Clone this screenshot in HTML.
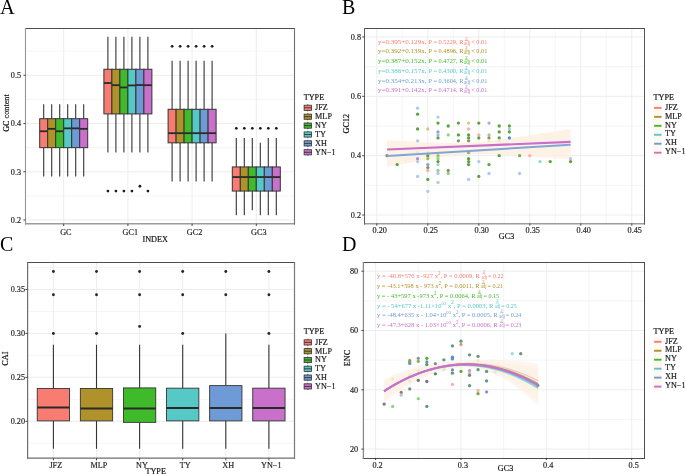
<!DOCTYPE html>
<html><head><meta charset="utf-8"><style>
html,body{margin:0;padding:0;background:#fff;width:685px;height:474px;overflow:hidden}
svg{display:block;font-family:"Liberation Serif",serif;will-change:transform}
text{stroke-width:0.18px}
</style></head><body>
<svg width="685" height="474" viewBox="0 0 685 474">
<rect width="685" height="474" fill="#fff"/>
<text x="0.10" y="13.70" font-size="20.4" text-anchor="start" fill="#000">A</text>
<text x="342.00" y="13.70" font-size="20.0" text-anchor="start" fill="#000">B</text>
<text x="0.00" y="251.00" font-size="20.0" text-anchor="start" fill="#000">C</text>
<text x="342.00" y="250.90" font-size="20.0" text-anchor="start" fill="#000">D</text>
<rect x="25.50" y="28.50" width="269.00" height="195.30" fill="#FFFFFF" stroke="none" stroke-width="0"/>
<line x1="25.50" y1="195.88" x2="294.50" y2="195.88" stroke="#EBEBEB" stroke-width="0.5"/>
<line x1="25.50" y1="147.65" x2="294.50" y2="147.65" stroke="#EBEBEB" stroke-width="0.5"/>
<line x1="25.50" y1="99.41" x2="294.50" y2="99.41" stroke="#EBEBEB" stroke-width="0.5"/>
<line x1="25.50" y1="51.18" x2="294.50" y2="51.18" stroke="#EBEBEB" stroke-width="0.5"/>
<line x1="25.50" y1="219.99" x2="294.50" y2="219.99" stroke="#EBEBEB" stroke-width="0.9"/>
<line x1="25.50" y1="171.76" x2="294.50" y2="171.76" stroke="#EBEBEB" stroke-width="0.9"/>
<line x1="25.50" y1="123.53" x2="294.50" y2="123.53" stroke="#EBEBEB" stroke-width="0.9"/>
<line x1="25.50" y1="75.30" x2="294.50" y2="75.30" stroke="#EBEBEB" stroke-width="0.9"/>
<line x1="63.70" y1="28.50" x2="63.70" y2="223.80" stroke="#EBEBEB" stroke-width="0.9"/>
<line x1="127.90" y1="28.50" x2="127.90" y2="223.80" stroke="#EBEBEB" stroke-width="0.9"/>
<line x1="192.10" y1="28.50" x2="192.10" y2="223.80" stroke="#EBEBEB" stroke-width="0.9"/>
<line x1="256.30" y1="28.50" x2="256.30" y2="223.80" stroke="#EBEBEB" stroke-width="0.9"/>
<line x1="43.70" y1="104.24" x2="43.70" y2="118.71" stroke="#333" stroke-width="1.1"/>
<line x1="43.70" y1="147.65" x2="43.70" y2="176.58" stroke="#333" stroke-width="1.1"/>
<rect x="39.70" y="118.71" width="8.00" height="28.94" fill="#F87C72" stroke="#333" stroke-width="1.0"/>
<line x1="39.70" y1="131.25" x2="47.70" y2="131.25" stroke="#2a2a2a" stroke-width="1.8"/>
<line x1="51.70" y1="104.24" x2="51.70" y2="118.71" stroke="#333" stroke-width="1.1"/>
<line x1="51.70" y1="147.65" x2="51.70" y2="176.58" stroke="#333" stroke-width="1.1"/>
<rect x="47.70" y="118.71" width="8.00" height="28.94" fill="#AF9229" stroke="#333" stroke-width="1.0"/>
<line x1="47.70" y1="128.84" x2="55.70" y2="128.84" stroke="#2a2a2a" stroke-width="1.8"/>
<line x1="59.70" y1="104.24" x2="59.70" y2="118.71" stroke="#333" stroke-width="1.1"/>
<line x1="59.70" y1="147.65" x2="59.70" y2="176.58" stroke="#333" stroke-width="1.1"/>
<rect x="55.70" y="118.71" width="8.00" height="28.94" fill="#3FBA2B" stroke="#333" stroke-width="1.0"/>
<line x1="55.70" y1="131.25" x2="63.70" y2="131.25" stroke="#2a2a2a" stroke-width="1.8"/>
<line x1="67.70" y1="104.24" x2="67.70" y2="118.71" stroke="#333" stroke-width="1.1"/>
<line x1="67.70" y1="147.65" x2="67.70" y2="176.58" stroke="#333" stroke-width="1.1"/>
<rect x="63.70" y="118.71" width="8.00" height="28.94" fill="#56C8C6" stroke="#333" stroke-width="1.0"/>
<line x1="63.70" y1="128.35" x2="71.70" y2="128.35" stroke="#2a2a2a" stroke-width="1.8"/>
<line x1="75.70" y1="104.24" x2="75.70" y2="118.71" stroke="#333" stroke-width="1.1"/>
<line x1="75.70" y1="147.65" x2="75.70" y2="176.58" stroke="#333" stroke-width="1.1"/>
<rect x="71.70" y="118.71" width="8.00" height="28.94" fill="#6E9BD5" stroke="#333" stroke-width="1.0"/>
<line x1="71.70" y1="128.35" x2="79.70" y2="128.35" stroke="#2a2a2a" stroke-width="1.8"/>
<line x1="83.70" y1="104.24" x2="83.70" y2="118.71" stroke="#333" stroke-width="1.1"/>
<line x1="83.70" y1="147.65" x2="83.70" y2="176.58" stroke="#333" stroke-width="1.1"/>
<rect x="79.70" y="118.71" width="8.00" height="28.94" fill="#C970CB" stroke="#333" stroke-width="1.0"/>
<line x1="79.70" y1="128.84" x2="87.70" y2="128.84" stroke="#2a2a2a" stroke-width="1.8"/>
<line x1="107.90" y1="36.72" x2="107.90" y2="69.27" stroke="#333" stroke-width="1.1"/>
<line x1="107.90" y1="113.88" x2="107.90" y2="152.47" stroke="#333" stroke-width="1.1"/>
<rect x="103.90" y="69.27" width="8.00" height="44.61" fill="#F87C72" stroke="#333" stroke-width="1.0"/>
<line x1="103.90" y1="83.02" x2="111.90" y2="83.02" stroke="#2a2a2a" stroke-width="1.8"/>
<circle cx="107.90" cy="191.05" r="1.4" fill="#1e1e1e"/>
<line x1="115.90" y1="36.72" x2="115.90" y2="69.27" stroke="#333" stroke-width="1.1"/>
<line x1="115.90" y1="113.88" x2="115.90" y2="152.47" stroke="#333" stroke-width="1.1"/>
<rect x="111.90" y="69.27" width="8.00" height="44.61" fill="#AF9229" stroke="#333" stroke-width="1.0"/>
<line x1="111.90" y1="85.19" x2="119.90" y2="85.19" stroke="#2a2a2a" stroke-width="1.8"/>
<circle cx="115.90" cy="191.05" r="1.4" fill="#1e1e1e"/>
<line x1="123.90" y1="36.72" x2="123.90" y2="69.27" stroke="#333" stroke-width="1.1"/>
<line x1="123.90" y1="113.88" x2="123.90" y2="152.47" stroke="#333" stroke-width="1.1"/>
<rect x="119.90" y="69.27" width="8.00" height="44.61" fill="#3FBA2B" stroke="#333" stroke-width="1.0"/>
<line x1="119.90" y1="87.45" x2="127.90" y2="87.45" stroke="#2a2a2a" stroke-width="1.8"/>
<circle cx="123.90" cy="191.05" r="1.4" fill="#1e1e1e"/>
<line x1="131.90" y1="36.72" x2="131.90" y2="69.27" stroke="#333" stroke-width="1.1"/>
<line x1="131.90" y1="113.88" x2="131.90" y2="152.47" stroke="#333" stroke-width="1.1"/>
<rect x="127.90" y="69.27" width="8.00" height="44.61" fill="#56C8C6" stroke="#333" stroke-width="1.0"/>
<line x1="127.90" y1="85.43" x2="135.90" y2="85.43" stroke="#2a2a2a" stroke-width="1.8"/>
<circle cx="131.90" cy="191.05" r="1.4" fill="#1e1e1e"/>
<line x1="139.90" y1="36.72" x2="139.90" y2="69.27" stroke="#333" stroke-width="1.1"/>
<line x1="139.90" y1="113.88" x2="139.90" y2="152.47" stroke="#333" stroke-width="1.1"/>
<rect x="135.90" y="69.27" width="8.00" height="44.61" fill="#6E9BD5" stroke="#333" stroke-width="1.0"/>
<line x1="135.90" y1="85.04" x2="143.90" y2="85.04" stroke="#2a2a2a" stroke-width="1.8"/>
<circle cx="139.90" cy="186.23" r="1.4" fill="#1e1e1e"/>
<line x1="147.90" y1="36.72" x2="147.90" y2="69.27" stroke="#333" stroke-width="1.1"/>
<line x1="147.90" y1="113.88" x2="147.90" y2="152.47" stroke="#333" stroke-width="1.1"/>
<rect x="143.90" y="69.27" width="8.00" height="44.61" fill="#C970CB" stroke="#333" stroke-width="1.0"/>
<line x1="143.90" y1="85.19" x2="151.90" y2="85.19" stroke="#2a2a2a" stroke-width="1.8"/>
<circle cx="147.90" cy="191.05" r="1.4" fill="#1e1e1e"/>
<line x1="172.10" y1="60.83" x2="172.10" y2="109.30" stroke="#333" stroke-width="1.1"/>
<line x1="172.10" y1="142.82" x2="172.10" y2="181.41" stroke="#333" stroke-width="1.1"/>
<rect x="168.10" y="109.30" width="8.00" height="33.52" fill="#F87C72" stroke="#333" stroke-width="1.0"/>
<line x1="168.10" y1="133.18" x2="176.10" y2="133.18" stroke="#2a2a2a" stroke-width="1.8"/>
<circle cx="172.10" cy="46.36" r="1.4" fill="#1e1e1e"/>
<line x1="180.10" y1="60.83" x2="180.10" y2="109.30" stroke="#333" stroke-width="1.1"/>
<line x1="180.10" y1="142.82" x2="180.10" y2="181.41" stroke="#333" stroke-width="1.1"/>
<rect x="176.10" y="109.30" width="8.00" height="33.52" fill="#AF9229" stroke="#333" stroke-width="1.0"/>
<line x1="176.10" y1="133.18" x2="184.10" y2="133.18" stroke="#2a2a2a" stroke-width="1.8"/>
<circle cx="180.10" cy="46.36" r="1.4" fill="#1e1e1e"/>
<line x1="188.10" y1="60.83" x2="188.10" y2="109.30" stroke="#333" stroke-width="1.1"/>
<line x1="188.10" y1="142.82" x2="188.10" y2="181.41" stroke="#333" stroke-width="1.1"/>
<rect x="184.10" y="109.30" width="8.00" height="33.52" fill="#3FBA2B" stroke="#333" stroke-width="1.0"/>
<line x1="184.10" y1="133.18" x2="192.10" y2="133.18" stroke="#2a2a2a" stroke-width="1.8"/>
<circle cx="188.10" cy="46.36" r="1.4" fill="#1e1e1e"/>
<line x1="196.10" y1="60.83" x2="196.10" y2="109.30" stroke="#333" stroke-width="1.1"/>
<line x1="196.10" y1="142.82" x2="196.10" y2="181.41" stroke="#333" stroke-width="1.1"/>
<rect x="192.10" y="109.30" width="8.00" height="33.52" fill="#56C8C6" stroke="#333" stroke-width="1.0"/>
<line x1="192.10" y1="133.18" x2="200.10" y2="133.18" stroke="#2a2a2a" stroke-width="1.8"/>
<circle cx="196.10" cy="46.36" r="1.4" fill="#1e1e1e"/>
<line x1="204.10" y1="60.83" x2="204.10" y2="109.30" stroke="#333" stroke-width="1.1"/>
<line x1="204.10" y1="142.82" x2="204.10" y2="181.41" stroke="#333" stroke-width="1.1"/>
<rect x="200.10" y="109.30" width="8.00" height="33.52" fill="#6E9BD5" stroke="#333" stroke-width="1.0"/>
<line x1="200.10" y1="133.18" x2="208.10" y2="133.18" stroke="#2a2a2a" stroke-width="1.8"/>
<circle cx="204.10" cy="46.36" r="1.4" fill="#1e1e1e"/>
<line x1="212.10" y1="60.83" x2="212.10" y2="109.30" stroke="#333" stroke-width="1.1"/>
<line x1="212.10" y1="142.82" x2="212.10" y2="181.41" stroke="#333" stroke-width="1.1"/>
<rect x="208.10" y="109.30" width="8.00" height="33.52" fill="#C970CB" stroke="#333" stroke-width="1.0"/>
<line x1="208.10" y1="133.18" x2="216.10" y2="133.18" stroke="#2a2a2a" stroke-width="1.8"/>
<circle cx="212.10" cy="46.36" r="1.4" fill="#1e1e1e"/>
<line x1="236.30" y1="138.00" x2="236.30" y2="166.94" stroke="#333" stroke-width="1.1"/>
<line x1="236.30" y1="191.05" x2="236.30" y2="215.17" stroke="#333" stroke-width="1.1"/>
<rect x="232.30" y="166.94" width="8.00" height="24.11" fill="#F87C72" stroke="#333" stroke-width="1.0"/>
<line x1="232.30" y1="177.07" x2="240.30" y2="177.07" stroke="#2a2a2a" stroke-width="1.8"/>
<circle cx="236.30" cy="128.35" r="1.4" fill="#1e1e1e"/>
<line x1="244.30" y1="138.00" x2="244.30" y2="166.94" stroke="#333" stroke-width="1.1"/>
<line x1="244.30" y1="191.05" x2="244.30" y2="215.17" stroke="#333" stroke-width="1.1"/>
<rect x="240.30" y="166.94" width="8.00" height="24.11" fill="#AF9229" stroke="#333" stroke-width="1.0"/>
<line x1="240.30" y1="177.07" x2="248.30" y2="177.07" stroke="#2a2a2a" stroke-width="1.8"/>
<circle cx="244.30" cy="128.35" r="1.4" fill="#1e1e1e"/>
<line x1="252.30" y1="138.00" x2="252.30" y2="166.94" stroke="#333" stroke-width="1.1"/>
<line x1="252.30" y1="191.05" x2="252.30" y2="210.34" stroke="#333" stroke-width="1.1"/>
<rect x="248.30" y="166.94" width="8.00" height="24.11" fill="#3FBA2B" stroke="#333" stroke-width="1.0"/>
<line x1="248.30" y1="177.07" x2="256.30" y2="177.07" stroke="#2a2a2a" stroke-width="1.8"/>
<circle cx="252.30" cy="128.35" r="1.4" fill="#1e1e1e"/>
<line x1="260.30" y1="142.82" x2="260.30" y2="166.94" stroke="#333" stroke-width="1.1"/>
<line x1="260.30" y1="191.05" x2="260.30" y2="215.17" stroke="#333" stroke-width="1.1"/>
<rect x="256.30" y="166.94" width="8.00" height="24.11" fill="#56C8C6" stroke="#333" stroke-width="1.0"/>
<line x1="256.30" y1="177.07" x2="264.30" y2="177.07" stroke="#2a2a2a" stroke-width="1.8"/>
<circle cx="260.30" cy="128.35" r="1.4" fill="#1e1e1e"/>
<line x1="268.30" y1="138.00" x2="268.30" y2="166.94" stroke="#333" stroke-width="1.1"/>
<line x1="268.30" y1="191.05" x2="268.30" y2="215.17" stroke="#333" stroke-width="1.1"/>
<rect x="264.30" y="166.94" width="8.00" height="24.11" fill="#6E9BD5" stroke="#333" stroke-width="1.0"/>
<line x1="264.30" y1="177.07" x2="272.30" y2="177.07" stroke="#2a2a2a" stroke-width="1.8"/>
<circle cx="268.30" cy="128.35" r="1.4" fill="#1e1e1e"/>
<line x1="276.30" y1="138.00" x2="276.30" y2="166.94" stroke="#333" stroke-width="1.1"/>
<line x1="276.30" y1="191.05" x2="276.30" y2="215.17" stroke="#333" stroke-width="1.1"/>
<rect x="272.30" y="166.94" width="8.00" height="24.11" fill="#C970CB" stroke="#333" stroke-width="1.0"/>
<line x1="272.30" y1="177.07" x2="280.30" y2="177.07" stroke="#2a2a2a" stroke-width="1.8"/>
<circle cx="276.30" cy="128.35" r="1.4" fill="#1e1e1e"/>
<line x1="24.95" y1="28.50" x2="295.05" y2="28.50" stroke="#4d4d4d" stroke-width="1.0"/>
<line x1="24.95" y1="223.80" x2="295.05" y2="223.80" stroke="#9c9c9c" stroke-width="1.5"/>
<line x1="25.50" y1="28.00" x2="25.50" y2="224.55" stroke="#949494" stroke-width="1.1"/>
<line x1="294.50" y1="28.00" x2="294.50" y2="224.55" stroke="#6e6e6e" stroke-width="1.1"/>
<text x="21.10" y="222.76" font-size="8.2" text-anchor="end" fill="#262626" stroke="#262626">0.2</text>
<line x1="23.40" y1="219.99" x2="25.50" y2="219.99" stroke="#333" stroke-width="0.9"/>
<text x="21.10" y="174.53" font-size="8.2" text-anchor="end" fill="#262626" stroke="#262626">0.3</text>
<line x1="23.40" y1="171.76" x2="25.50" y2="171.76" stroke="#333" stroke-width="0.9"/>
<text x="21.10" y="126.30" font-size="8.2" text-anchor="end" fill="#262626" stroke="#262626">0.4</text>
<line x1="23.40" y1="123.53" x2="25.50" y2="123.53" stroke="#333" stroke-width="0.9"/>
<text x="21.10" y="78.07" font-size="8.2" text-anchor="end" fill="#262626" stroke="#262626">0.5</text>
<line x1="23.40" y1="75.30" x2="25.50" y2="75.30" stroke="#333" stroke-width="0.9"/>
<line x1="63.70" y1="223.80" x2="63.70" y2="226.00" stroke="#333" stroke-width="0.9"/>
<text x="65.90" y="235.10" font-size="8.2" text-anchor="middle" fill="#262626" stroke="#262626">GC</text>
<line x1="127.90" y1="223.80" x2="127.90" y2="226.00" stroke="#333" stroke-width="0.9"/>
<text x="130.30" y="235.10" font-size="8.2" text-anchor="middle" fill="#262626" stroke="#262626">GC1</text>
<line x1="192.10" y1="223.80" x2="192.10" y2="226.00" stroke="#333" stroke-width="0.9"/>
<text x="194.60" y="235.10" font-size="8.2" text-anchor="middle" fill="#262626" stroke="#262626">GC2</text>
<line x1="256.30" y1="223.80" x2="256.30" y2="226.00" stroke="#333" stroke-width="0.9"/>
<text x="258.80" y="235.10" font-size="8.2" text-anchor="middle" fill="#262626" stroke="#262626">GC3</text>
<text x="155.20" y="241.50" font-size="8.2" text-anchor="middle" fill="#111" stroke="#111">INDEX</text>
<text transform="translate(9.0,113.1) rotate(-90)" font-size="8.2" text-anchor="middle" fill="#111" stroke="#111">GC content</text>
<text x="303.70" y="100.10" font-size="8.2" text-anchor="start" fill="#111" stroke="#111">TYPE</text>
<line x1="307.80" y1="104.20" x2="307.80" y2="111.40" stroke="#333" stroke-width="0.8"/>
<rect x="304.10" y="105.20" width="7.40" height="5.20" fill="#F87C72" stroke="#333" stroke-width="0.8"/>
<line x1="304.10" y1="107.80" x2="311.50" y2="107.80" stroke="#333" stroke-width="0.9"/>
<text x="315.10" y="110.20" font-size="8.2" text-anchor="start" fill="#1a1a1a" stroke="#1a1a1a">JFZ</text>
<line x1="307.80" y1="113.10" x2="307.80" y2="120.30" stroke="#333" stroke-width="0.8"/>
<rect x="304.10" y="114.10" width="7.40" height="5.20" fill="#AF9229" stroke="#333" stroke-width="0.8"/>
<line x1="304.10" y1="116.70" x2="311.50" y2="116.70" stroke="#333" stroke-width="0.9"/>
<text x="315.10" y="119.10" font-size="8.2" text-anchor="start" fill="#1a1a1a" stroke="#1a1a1a">MLP</text>
<line x1="307.80" y1="122.00" x2="307.80" y2="129.20" stroke="#333" stroke-width="0.8"/>
<rect x="304.10" y="123.00" width="7.40" height="5.20" fill="#3FBA2B" stroke="#333" stroke-width="0.8"/>
<line x1="304.10" y1="125.60" x2="311.50" y2="125.60" stroke="#333" stroke-width="0.9"/>
<text x="315.10" y="128.00" font-size="8.2" text-anchor="start" fill="#1a1a1a" stroke="#1a1a1a">NY</text>
<line x1="307.80" y1="130.90" x2="307.80" y2="138.10" stroke="#333" stroke-width="0.8"/>
<rect x="304.10" y="131.90" width="7.40" height="5.20" fill="#56C8C6" stroke="#333" stroke-width="0.8"/>
<line x1="304.10" y1="134.50" x2="311.50" y2="134.50" stroke="#333" stroke-width="0.9"/>
<text x="315.10" y="136.90" font-size="8.2" text-anchor="start" fill="#1a1a1a" stroke="#1a1a1a">TY</text>
<line x1="307.80" y1="139.80" x2="307.80" y2="147.00" stroke="#333" stroke-width="0.8"/>
<rect x="304.10" y="140.80" width="7.40" height="5.20" fill="#6E9BD5" stroke="#333" stroke-width="0.8"/>
<line x1="304.10" y1="143.40" x2="311.50" y2="143.40" stroke="#333" stroke-width="0.9"/>
<text x="315.10" y="145.80" font-size="8.2" text-anchor="start" fill="#1a1a1a" stroke="#1a1a1a">XH</text>
<line x1="307.80" y1="148.70" x2="307.80" y2="155.90" stroke="#333" stroke-width="0.8"/>
<rect x="304.10" y="149.70" width="7.40" height="5.20" fill="#C970CB" stroke="#333" stroke-width="0.8"/>
<line x1="304.10" y1="152.30" x2="311.50" y2="152.30" stroke="#333" stroke-width="0.9"/>
<text x="315.10" y="154.70" font-size="8.2" text-anchor="start" fill="#1a1a1a" stroke="#1a1a1a">YN−1</text>
<rect x="364.30" y="28.10" width="280.10" height="195.40" fill="#FFFFFF" stroke="none" stroke-width="0"/>
<line x1="364.30" y1="185.35" x2="644.40" y2="185.35" stroke="#EBEBEB" stroke-width="0.5"/>
<line x1="364.30" y1="126.01" x2="644.40" y2="126.01" stroke="#EBEBEB" stroke-width="0.5"/>
<line x1="364.30" y1="66.67" x2="644.40" y2="66.67" stroke="#EBEBEB" stroke-width="0.5"/>
<line x1="402.30" y1="28.10" x2="402.30" y2="223.50" stroke="#EBEBEB" stroke-width="0.5"/>
<line x1="453.30" y1="28.10" x2="453.30" y2="223.50" stroke="#EBEBEB" stroke-width="0.5"/>
<line x1="504.30" y1="28.10" x2="504.30" y2="223.50" stroke="#EBEBEB" stroke-width="0.5"/>
<line x1="555.30" y1="28.10" x2="555.30" y2="223.50" stroke="#EBEBEB" stroke-width="0.5"/>
<line x1="606.30" y1="28.10" x2="606.30" y2="223.50" stroke="#EBEBEB" stroke-width="0.5"/>
<line x1="364.30" y1="215.02" x2="644.40" y2="215.02" stroke="#EBEBEB" stroke-width="0.9"/>
<line x1="364.30" y1="155.68" x2="644.40" y2="155.68" stroke="#EBEBEB" stroke-width="0.9"/>
<line x1="364.30" y1="96.34" x2="644.40" y2="96.34" stroke="#EBEBEB" stroke-width="0.9"/>
<line x1="364.30" y1="37.00" x2="644.40" y2="37.00" stroke="#EBEBEB" stroke-width="0.9"/>
<line x1="376.80" y1="28.10" x2="376.80" y2="223.50" stroke="#EBEBEB" stroke-width="0.9"/>
<line x1="427.80" y1="28.10" x2="427.80" y2="223.50" stroke="#EBEBEB" stroke-width="0.9"/>
<line x1="478.80" y1="28.10" x2="478.80" y2="223.50" stroke="#EBEBEB" stroke-width="0.9"/>
<line x1="529.80" y1="28.10" x2="529.80" y2="223.50" stroke="#EBEBEB" stroke-width="0.9"/>
<line x1="580.80" y1="28.10" x2="580.80" y2="223.50" stroke="#EBEBEB" stroke-width="0.9"/>
<line x1="631.80" y1="28.10" x2="631.80" y2="223.50" stroke="#EBEBEB" stroke-width="0.9"/>
<path d="M387.00,140.14 L393.12,140.51 L399.24,140.87 L405.36,141.22 L411.48,141.56 L417.60,141.89 L423.72,142.19 L429.84,142.46 L435.96,142.70 L442.08,142.90 L448.20,143.02 L454.32,143.07 L460.44,143.00 L466.56,142.82 L472.68,142.48 L478.80,142.00 L484.92,141.39 L491.04,140.68 L497.16,139.90 L503.28,139.07 L509.40,138.21 L515.52,137.32 L521.64,136.41 L527.76,135.48 L533.88,134.54 L540.00,133.60 L546.12,132.64 L552.24,131.68 L558.36,130.72 L564.48,129.75 L570.60,128.77 L570.60,160.01 L564.48,159.55 L558.36,159.08 L552.24,158.62 L546.12,158.17 L540.00,157.72 L533.88,157.28 L527.76,156.84 L521.64,156.42 L515.52,156.01 L509.40,155.62 L503.28,155.26 L497.16,154.93 L491.04,154.65 L484.92,154.44 L478.80,154.34 L472.68,154.39 L466.56,154.63 L460.44,155.07 L454.32,155.68 L448.20,156.43 L442.08,157.28 L435.96,158.22 L429.84,159.21 L423.72,160.24 L417.60,161.30 L411.48,162.38 L405.36,163.47 L399.24,164.58 L393.12,165.70 L387.00,166.83Z" fill="#FDEEDD" fill-opacity="0.45"/>
<path d="M387.00,140.14 L393.12,140.51 L399.24,140.87 L405.36,141.22 L411.48,141.56 L417.60,141.89 L423.72,142.19 L429.84,142.46 L435.96,142.70 L442.08,142.90 L448.20,143.02 L454.32,143.07 L460.44,143.00 L466.56,142.82 L472.68,142.49 L478.80,142.02 L484.92,141.43 L491.04,140.74 L497.16,139.99 L503.28,139.19 L509.40,138.35 L515.52,137.49 L521.64,136.60 L527.76,135.70 L533.88,134.79 L540.00,133.87 L546.12,132.94 L552.24,132.01 L558.36,131.07 L564.48,130.12 L570.60,129.17 L570.60,157.77 L564.48,157.45 L558.36,157.12 L552.24,156.80 L546.12,156.49 L540.00,156.18 L533.88,155.88 L527.76,155.59 L521.64,155.31 L515.52,155.04 L509.40,154.80 L503.28,154.58 L497.16,154.40 L491.04,154.26 L484.92,154.19 L478.80,154.21 L472.68,154.35 L466.56,154.63 L460.44,155.07 L454.32,155.68 L448.20,156.43 L442.08,157.28 L435.96,158.22 L429.84,159.21 L423.72,160.24 L417.60,161.30 L411.48,162.38 L405.36,163.47 L399.24,164.58 L393.12,165.70 L387.00,166.83Z" fill="#FDEEDD" fill-opacity="0.55"/>
<circle cx="387.00" cy="155.68" r="1.65" fill="#9A8A62"/>
<circle cx="397.20" cy="164.58" r="1.65" fill="#5EA23E"/>
<circle cx="417.60" cy="108.21" r="1.65" fill="#AFC8EE"/>
<circle cx="417.60" cy="114.14" r="1.65" fill="#5EA23E"/>
<circle cx="417.60" cy="128.98" r="1.65" fill="#5EA23E"/>
<circle cx="417.60" cy="140.84" r="1.65" fill="#AFC8EE"/>
<circle cx="417.60" cy="152.71" r="1.65" fill="#EFE6CF"/>
<circle cx="417.60" cy="158.65" r="1.65" fill="#A993D6"/>
<circle cx="417.60" cy="161.61" r="1.65" fill="#AFC8EE"/>
<circle cx="417.60" cy="176.45" r="1.65" fill="#AFC8EE"/>
<circle cx="427.80" cy="128.98" r="1.65" fill="#D6C68A"/>
<circle cx="427.80" cy="152.71" r="1.65" fill="#EFE6CF"/>
<circle cx="427.80" cy="155.68" r="1.65" fill="#5EA23E"/>
<circle cx="427.80" cy="158.65" r="1.65" fill="#9EBE55"/>
<circle cx="427.80" cy="164.58" r="1.65" fill="#7EA3E0"/>
<circle cx="427.80" cy="167.55" r="1.65" fill="#9A8A62"/>
<circle cx="427.80" cy="170.52" r="1.65" fill="#F7B0AA"/>
<circle cx="427.80" cy="179.42" r="1.65" fill="#5EA23E"/>
<circle cx="427.80" cy="191.28" r="1.65" fill="#AFC8EE"/>
<circle cx="438.00" cy="117.11" r="1.65" fill="#AFC8EE"/>
<circle cx="438.00" cy="123.04" r="1.65" fill="#5EA23E"/>
<circle cx="438.00" cy="131.94" r="1.65" fill="#A993D6"/>
<circle cx="438.00" cy="134.91" r="1.65" fill="#8CC4E8"/>
<circle cx="438.00" cy="137.88" r="1.65" fill="#5EA23E"/>
<circle cx="438.00" cy="155.68" r="1.65" fill="#9EBE55"/>
<circle cx="438.00" cy="158.65" r="1.65" fill="#8ED67E"/>
<circle cx="438.00" cy="161.61" r="1.65" fill="#5EA23E"/>
<circle cx="438.00" cy="164.58" r="1.65" fill="#AFC8EE"/>
<circle cx="438.00" cy="170.52" r="1.65" fill="#8ED67E"/>
<circle cx="438.00" cy="173.48" r="1.65" fill="#AFC8EE"/>
<circle cx="438.00" cy="182.38" r="1.65" fill="#AFC8EE"/>
<circle cx="448.20" cy="126.01" r="1.65" fill="#5EA23E"/>
<circle cx="448.20" cy="134.91" r="1.65" fill="#8ED67E"/>
<circle cx="448.20" cy="170.52" r="1.65" fill="#9A8A62"/>
<circle cx="448.20" cy="173.48" r="1.65" fill="#8ED67E"/>
<circle cx="458.40" cy="123.04" r="1.65" fill="#5EA23E"/>
<circle cx="458.40" cy="134.91" r="1.65" fill="#5EA23E"/>
<circle cx="458.40" cy="140.84" r="1.65" fill="#6E9E5E"/>
<circle cx="468.60" cy="123.04" r="1.65" fill="#D6C68A"/>
<circle cx="468.60" cy="128.98" r="1.65" fill="#F7B0AA"/>
<circle cx="468.60" cy="134.91" r="1.65" fill="#5EA23E"/>
<circle cx="468.60" cy="137.88" r="1.65" fill="#5EA23E"/>
<circle cx="468.60" cy="140.84" r="1.65" fill="#9A8A62"/>
<circle cx="468.60" cy="152.71" r="1.65" fill="#8DBB6A"/>
<circle cx="468.60" cy="158.65" r="1.65" fill="#5EA23E"/>
<circle cx="468.60" cy="161.61" r="1.65" fill="#5EA23E"/>
<circle cx="468.60" cy="164.58" r="1.65" fill="#5EA23E"/>
<circle cx="468.60" cy="179.42" r="1.65" fill="#AFC8EE"/>
<circle cx="478.80" cy="123.04" r="1.65" fill="#5EA23E"/>
<circle cx="478.80" cy="134.91" r="1.65" fill="#F7B0AA"/>
<circle cx="478.80" cy="137.88" r="1.65" fill="#5EA23E"/>
<circle cx="478.80" cy="161.61" r="1.65" fill="#AFC8EE"/>
<circle cx="478.80" cy="176.45" r="1.65" fill="#5EA23E"/>
<circle cx="489.00" cy="123.04" r="1.65" fill="#B5A6DA"/>
<circle cx="489.00" cy="134.91" r="1.65" fill="#8ED67E"/>
<circle cx="489.00" cy="137.88" r="1.65" fill="#9A8A62"/>
<circle cx="489.00" cy="140.84" r="1.65" fill="#EFE6CF"/>
<circle cx="489.00" cy="164.58" r="1.65" fill="#5EA23E"/>
<circle cx="489.00" cy="173.48" r="1.65" fill="#AFC8EE"/>
<circle cx="499.20" cy="126.01" r="1.65" fill="#5EA23E"/>
<circle cx="499.20" cy="131.94" r="1.65" fill="#5EA23E"/>
<circle cx="499.20" cy="137.88" r="1.65" fill="#5EA23E"/>
<circle cx="499.20" cy="140.84" r="1.65" fill="#EFE6CF"/>
<circle cx="499.20" cy="155.68" r="1.65" fill="#5EA23E"/>
<circle cx="509.40" cy="126.01" r="1.65" fill="#5EA23E"/>
<circle cx="509.40" cy="128.98" r="1.65" fill="#AFC8EE"/>
<circle cx="509.40" cy="131.94" r="1.65" fill="#4DB034"/>
<circle cx="509.40" cy="137.88" r="1.65" fill="#6080D0"/>
<circle cx="519.60" cy="155.68" r="1.65" fill="#7AAE5A"/>
<circle cx="519.60" cy="173.48" r="1.65" fill="#AFC8EE"/>
<circle cx="529.80" cy="155.68" r="1.65" fill="#F7B0AA"/>
<circle cx="540.00" cy="161.61" r="1.65" fill="#8FD8DA"/>
<circle cx="550.20" cy="161.61" r="1.65" fill="#5EA23E"/>
<circle cx="570.60" cy="158.65" r="1.65" fill="#AFC8EE"/>
<circle cx="570.60" cy="161.61" r="1.65" fill="#5EA23E"/>
<line x1="387.00" y1="156.06" x2="570.60" y2="144.68" stroke="#7FA5DC" stroke-width="2.1"/>
<line x1="387.00" y1="149.50" x2="570.60" y2="141.92" stroke="#CB6DCA" stroke-width="2.1"/>
<line x1="364.00" y1="28.50" x2="645.00" y2="28.50" stroke="#4d4d4d" stroke-width="1.0"/>
<line x1="364.00" y1="223.80" x2="645.00" y2="223.80" stroke="#9c9c9c" stroke-width="1.5"/>
<line x1="364.50" y1="28.00" x2="364.50" y2="224.55" stroke="#5e5e5e" stroke-width="1.0"/>
<line x1="644.50" y1="28.00" x2="644.50" y2="224.55" stroke="#555555" stroke-width="1.0"/>
<text x="377.9" y="43.80" font-size="7.1" fill="#F87C72" textLength="48.6" lengthAdjust="spacingAndGlyphs">y=0.395+0.129x,</text>
<text x="428.6" y="43.80" font-size="7.1" fill="#F87C72" textLength="34.8" lengthAdjust="spacingAndGlyphs">P = 0.5229, R</text>
<text x="466.4" y="39.80" font-size="4.8" text-anchor="middle" fill="#F87C72">2</text>
<line x1="464.80" y1="40.50" x2="468.20" y2="40.50" stroke="#F87C72" stroke-width="0.7"/>
<text x="467.0" y="44.80" font-size="5.4" text-anchor="middle" fill="#F87C72" textLength="6.2" lengthAdjust="spacingAndGlyphs">adj</text>
<text x="471.2" y="43.80" font-size="7.1" fill="#F87C72" textLength="16.1" lengthAdjust="spacingAndGlyphs">&lt; 0.01</text>
<text x="377.9" y="53.48" font-size="7.1" fill="#AF9229" textLength="48.6" lengthAdjust="spacingAndGlyphs">y=0.392+0.139x,</text>
<text x="428.6" y="53.48" font-size="7.1" fill="#AF9229" textLength="34.8" lengthAdjust="spacingAndGlyphs">P = 0.4896, R</text>
<text x="466.4" y="49.48" font-size="4.8" text-anchor="middle" fill="#AF9229">2</text>
<line x1="464.80" y1="50.18" x2="468.20" y2="50.18" stroke="#AF9229" stroke-width="0.7"/>
<text x="467.0" y="54.48" font-size="5.4" text-anchor="middle" fill="#AF9229" textLength="6.2" lengthAdjust="spacingAndGlyphs">adj</text>
<text x="471.2" y="53.48" font-size="7.1" fill="#AF9229" textLength="16.1" lengthAdjust="spacingAndGlyphs">&lt; 0.01</text>
<text x="377.9" y="63.16" font-size="7.1" fill="#3FBA2B" textLength="48.6" lengthAdjust="spacingAndGlyphs">y=0.387+0.152x,</text>
<text x="428.6" y="63.16" font-size="7.1" fill="#3FBA2B" textLength="34.8" lengthAdjust="spacingAndGlyphs">P = 0.4727, R</text>
<text x="466.4" y="59.16" font-size="4.8" text-anchor="middle" fill="#3FBA2B">2</text>
<line x1="464.80" y1="59.86" x2="468.20" y2="59.86" stroke="#3FBA2B" stroke-width="0.7"/>
<text x="467.0" y="64.16" font-size="5.4" text-anchor="middle" fill="#3FBA2B" textLength="6.2" lengthAdjust="spacingAndGlyphs">adj</text>
<text x="471.2" y="63.16" font-size="7.1" fill="#3FBA2B" textLength="16.1" lengthAdjust="spacingAndGlyphs">&lt; 0.01</text>
<text x="377.9" y="72.84" font-size="7.1" fill="#56C8C6" textLength="48.6" lengthAdjust="spacingAndGlyphs">y=0.386+0.157x,</text>
<text x="428.6" y="72.84" font-size="7.1" fill="#56C8C6" textLength="34.8" lengthAdjust="spacingAndGlyphs">P = 0.4300, R</text>
<text x="466.4" y="68.84" font-size="4.8" text-anchor="middle" fill="#56C8C6">2</text>
<line x1="464.80" y1="69.54" x2="468.20" y2="69.54" stroke="#56C8C6" stroke-width="0.7"/>
<text x="467.0" y="73.84" font-size="5.4" text-anchor="middle" fill="#56C8C6" textLength="6.2" lengthAdjust="spacingAndGlyphs">adj</text>
<text x="471.2" y="72.84" font-size="7.1" fill="#56C8C6" textLength="16.1" lengthAdjust="spacingAndGlyphs">&lt; 0.01</text>
<text x="377.9" y="82.52" font-size="7.1" fill="#6E9BD5" textLength="48.6" lengthAdjust="spacingAndGlyphs">y=0.354+0.213x,</text>
<text x="428.6" y="82.52" font-size="7.1" fill="#6E9BD5" textLength="34.8" lengthAdjust="spacingAndGlyphs">P = 0.3604, R</text>
<text x="466.4" y="78.52" font-size="4.8" text-anchor="middle" fill="#6E9BD5">2</text>
<line x1="464.80" y1="79.22" x2="468.20" y2="79.22" stroke="#6E9BD5" stroke-width="0.7"/>
<text x="467.0" y="83.52" font-size="5.4" text-anchor="middle" fill="#6E9BD5" textLength="6.2" lengthAdjust="spacingAndGlyphs">adj</text>
<text x="471.2" y="82.52" font-size="7.1" fill="#6E9BD5" textLength="16.1" lengthAdjust="spacingAndGlyphs">&lt; 0.01</text>
<text x="377.9" y="92.20" font-size="7.1" fill="#C970CB" textLength="48.6" lengthAdjust="spacingAndGlyphs">y=0.391+0.142x,</text>
<text x="428.6" y="92.20" font-size="7.1" fill="#C970CB" textLength="34.8" lengthAdjust="spacingAndGlyphs">P = 0.4714, R</text>
<text x="466.4" y="88.20" font-size="4.8" text-anchor="middle" fill="#C970CB">2</text>
<line x1="464.80" y1="88.90" x2="468.20" y2="88.90" stroke="#C970CB" stroke-width="0.7"/>
<text x="467.0" y="93.20" font-size="5.4" text-anchor="middle" fill="#C970CB" textLength="6.2" lengthAdjust="spacingAndGlyphs">adj</text>
<text x="471.2" y="92.20" font-size="7.1" fill="#C970CB" textLength="16.1" lengthAdjust="spacingAndGlyphs">&lt; 0.01</text>
<text x="361.00" y="217.79" font-size="8.2" text-anchor="end" fill="#262626" stroke="#262626">0.2</text>
<line x1="362.20" y1="215.02" x2="364.30" y2="215.02" stroke="#333" stroke-width="0.9"/>
<text x="361.00" y="158.45" font-size="8.2" text-anchor="end" fill="#262626" stroke="#262626">0.4</text>
<line x1="362.20" y1="155.68" x2="364.30" y2="155.68" stroke="#333" stroke-width="0.9"/>
<text x="361.00" y="99.11" font-size="8.2" text-anchor="end" fill="#262626" stroke="#262626">0.6</text>
<line x1="362.20" y1="96.34" x2="364.30" y2="96.34" stroke="#333" stroke-width="0.9"/>
<text x="361.00" y="39.77" font-size="8.2" text-anchor="end" fill="#262626" stroke="#262626">0.8</text>
<line x1="362.20" y1="37.00" x2="364.30" y2="37.00" stroke="#333" stroke-width="0.9"/>
<line x1="376.80" y1="223.50" x2="376.80" y2="225.70" stroke="#333" stroke-width="0.9"/>
<text x="379.70" y="233.20" font-size="8.2" text-anchor="middle" fill="#262626" stroke="#262626">0.20</text>
<line x1="427.80" y1="223.50" x2="427.80" y2="225.70" stroke="#333" stroke-width="0.9"/>
<text x="430.70" y="233.20" font-size="8.2" text-anchor="middle" fill="#262626" stroke="#262626">0.25</text>
<line x1="478.80" y1="223.50" x2="478.80" y2="225.70" stroke="#333" stroke-width="0.9"/>
<text x="481.70" y="233.20" font-size="8.2" text-anchor="middle" fill="#262626" stroke="#262626">0.30</text>
<line x1="529.80" y1="223.50" x2="529.80" y2="225.70" stroke="#333" stroke-width="0.9"/>
<text x="532.70" y="233.20" font-size="8.2" text-anchor="middle" fill="#262626" stroke="#262626">0.35</text>
<line x1="580.80" y1="223.50" x2="580.80" y2="225.70" stroke="#333" stroke-width="0.9"/>
<text x="583.70" y="233.20" font-size="8.2" text-anchor="middle" fill="#262626" stroke="#262626">0.40</text>
<line x1="631.80" y1="223.50" x2="631.80" y2="225.70" stroke="#333" stroke-width="0.9"/>
<text x="634.70" y="233.20" font-size="8.2" text-anchor="middle" fill="#262626" stroke="#262626">0.45</text>
<text x="506.50" y="239.00" font-size="8.2" text-anchor="middle" fill="#111" stroke="#111">GC3</text>
<text transform="translate(348.6,123.7) rotate(-90)" font-size="8.2" text-anchor="middle" fill="#111" stroke="#111">GC12</text>
<text x="653.50" y="99.80" font-size="8.2" text-anchor="start" fill="#111" stroke="#111">TYPE</text>
<rect x="653.50" y="103.30" width="8.60" height="9.20" fill="#FEF8F0" stroke="none" stroke-width="0"/>
<line x1="654.10" y1="107.90" x2="661.50" y2="107.90" stroke="#F87C72" stroke-width="1.9"/>
<text x="665.00" y="109.60" font-size="8.2" text-anchor="start" fill="#1a1a1a" stroke="#1a1a1a">JFZ</text>
<rect x="653.50" y="112.26" width="8.60" height="9.20" fill="#FEF8F0" stroke="none" stroke-width="0"/>
<line x1="654.10" y1="116.86" x2="661.50" y2="116.86" stroke="#AF9229" stroke-width="1.9"/>
<text x="665.00" y="118.56" font-size="8.2" text-anchor="start" fill="#1a1a1a" stroke="#1a1a1a">MLP</text>
<rect x="653.50" y="121.22" width="8.60" height="9.20" fill="#FEF8F0" stroke="none" stroke-width="0"/>
<line x1="654.10" y1="125.82" x2="661.50" y2="125.82" stroke="#3FBA2B" stroke-width="1.9"/>
<text x="665.00" y="127.52" font-size="8.2" text-anchor="start" fill="#1a1a1a" stroke="#1a1a1a">NY</text>
<rect x="653.50" y="130.18" width="8.60" height="9.20" fill="#FEF8F0" stroke="none" stroke-width="0"/>
<line x1="654.10" y1="134.78" x2="661.50" y2="134.78" stroke="#56C8C6" stroke-width="1.9"/>
<text x="665.00" y="136.48" font-size="8.2" text-anchor="start" fill="#1a1a1a" stroke="#1a1a1a">TY</text>
<rect x="653.50" y="139.14" width="8.60" height="9.20" fill="#FEF8F0" stroke="none" stroke-width="0"/>
<line x1="654.10" y1="143.74" x2="661.50" y2="143.74" stroke="#6E9BD5" stroke-width="1.9"/>
<text x="665.00" y="145.44" font-size="8.2" text-anchor="start" fill="#1a1a1a" stroke="#1a1a1a">XH</text>
<rect x="653.50" y="148.10" width="8.60" height="9.20" fill="#FEF8F0" stroke="none" stroke-width="0"/>
<line x1="654.10" y1="152.70" x2="661.50" y2="152.70" stroke="#C970CB" stroke-width="1.9"/>
<text x="665.00" y="154.40" font-size="8.2" text-anchor="start" fill="#1a1a1a" stroke="#1a1a1a">YN−1</text>
<rect x="27.50" y="262.30" width="267.20" height="195.90" fill="#FFFFFF" stroke="none" stroke-width="0"/>
<line x1="27.50" y1="443.27" x2="294.70" y2="443.27" stroke="#EBEBEB" stroke-width="0.5"/>
<line x1="27.50" y1="399.33" x2="294.70" y2="399.33" stroke="#EBEBEB" stroke-width="0.5"/>
<line x1="27.50" y1="355.40" x2="294.70" y2="355.40" stroke="#EBEBEB" stroke-width="0.5"/>
<line x1="27.50" y1="311.46" x2="294.70" y2="311.46" stroke="#EBEBEB" stroke-width="0.5"/>
<line x1="27.50" y1="267.53" x2="294.70" y2="267.53" stroke="#EBEBEB" stroke-width="0.5"/>
<line x1="27.50" y1="421.30" x2="294.70" y2="421.30" stroke="#EBEBEB" stroke-width="0.9"/>
<line x1="27.50" y1="377.37" x2="294.70" y2="377.37" stroke="#EBEBEB" stroke-width="0.9"/>
<line x1="27.50" y1="333.43" x2="294.70" y2="333.43" stroke="#EBEBEB" stroke-width="0.9"/>
<line x1="27.50" y1="289.50" x2="294.70" y2="289.50" stroke="#EBEBEB" stroke-width="0.9"/>
<line x1="53.40" y1="262.30" x2="53.40" y2="458.20" stroke="#EBEBEB" stroke-width="0.9"/>
<line x1="96.50" y1="262.30" x2="96.50" y2="458.20" stroke="#EBEBEB" stroke-width="0.9"/>
<line x1="139.60" y1="262.30" x2="139.60" y2="458.20" stroke="#EBEBEB" stroke-width="0.9"/>
<line x1="182.70" y1="262.30" x2="182.70" y2="458.20" stroke="#EBEBEB" stroke-width="0.9"/>
<line x1="225.80" y1="262.30" x2="225.80" y2="458.20" stroke="#EBEBEB" stroke-width="0.9"/>
<line x1="268.90" y1="262.30" x2="268.90" y2="458.20" stroke="#EBEBEB" stroke-width="0.9"/>
<line x1="53.40" y1="344.77" x2="53.40" y2="388.44" stroke="#333" stroke-width="1.1"/>
<line x1="53.40" y1="420.86" x2="53.40" y2="448.80" stroke="#333" stroke-width="1.1"/>
<rect x="37.25" y="388.44" width="32.30" height="32.42" fill="#F87C72" stroke="#333" stroke-width="0.9"/>
<line x1="37.25" y1="407.50" x2="69.55" y2="407.50" stroke="#2a2a2a" stroke-width="1.9"/>
<circle cx="53.40" cy="333.43" r="1.45" fill="#262626"/>
<circle cx="53.40" cy="294.77" r="1.45" fill="#262626"/>
<circle cx="53.40" cy="271.48" r="1.45" fill="#262626"/>
<line x1="96.50" y1="344.77" x2="96.50" y2="388.44" stroke="#333" stroke-width="1.1"/>
<line x1="96.50" y1="420.86" x2="96.50" y2="448.80" stroke="#333" stroke-width="1.1"/>
<rect x="80.35" y="388.44" width="32.30" height="32.42" fill="#AF9229" stroke="#333" stroke-width="0.9"/>
<line x1="80.35" y1="408.47" x2="112.65" y2="408.47" stroke="#2a2a2a" stroke-width="1.9"/>
<circle cx="96.50" cy="333.43" r="1.45" fill="#262626"/>
<circle cx="96.50" cy="294.77" r="1.45" fill="#262626"/>
<circle cx="96.50" cy="271.48" r="1.45" fill="#262626"/>
<line x1="139.60" y1="344.77" x2="139.60" y2="387.91" stroke="#333" stroke-width="1.1"/>
<line x1="139.60" y1="422.35" x2="139.60" y2="448.80" stroke="#333" stroke-width="1.1"/>
<rect x="123.45" y="387.91" width="32.30" height="34.45" fill="#3FBA2B" stroke="#333" stroke-width="0.9"/>
<line x1="123.45" y1="408.47" x2="155.75" y2="408.47" stroke="#2a2a2a" stroke-width="1.9"/>
<circle cx="139.60" cy="326.40" r="1.45" fill="#262626"/>
<circle cx="139.60" cy="294.77" r="1.45" fill="#262626"/>
<circle cx="139.60" cy="271.48" r="1.45" fill="#262626"/>
<line x1="182.70" y1="344.77" x2="182.70" y2="388.17" stroke="#333" stroke-width="1.1"/>
<line x1="182.70" y1="420.86" x2="182.70" y2="448.80" stroke="#333" stroke-width="1.1"/>
<rect x="166.55" y="388.17" width="32.30" height="32.69" fill="#56C8C6" stroke="#333" stroke-width="0.9"/>
<line x1="166.55" y1="408.03" x2="198.85" y2="408.03" stroke="#2a2a2a" stroke-width="1.9"/>
<circle cx="182.70" cy="333.43" r="1.45" fill="#262626"/>
<circle cx="182.70" cy="294.77" r="1.45" fill="#262626"/>
<circle cx="182.70" cy="271.48" r="1.45" fill="#262626"/>
<line x1="225.80" y1="333.43" x2="225.80" y2="385.62" stroke="#333" stroke-width="1.1"/>
<line x1="225.80" y1="420.86" x2="225.80" y2="448.80" stroke="#333" stroke-width="1.1"/>
<rect x="209.65" y="385.62" width="32.30" height="35.24" fill="#6E9BD5" stroke="#333" stroke-width="0.9"/>
<line x1="209.65" y1="408.03" x2="241.95" y2="408.03" stroke="#2a2a2a" stroke-width="1.9"/>
<circle cx="225.80" cy="294.77" r="1.45" fill="#262626"/>
<circle cx="225.80" cy="271.48" r="1.45" fill="#262626"/>
<line x1="268.90" y1="344.77" x2="268.90" y2="388.17" stroke="#333" stroke-width="1.1"/>
<line x1="268.90" y1="420.86" x2="268.90" y2="448.80" stroke="#333" stroke-width="1.1"/>
<rect x="252.75" y="388.17" width="32.30" height="32.69" fill="#C970CB" stroke="#333" stroke-width="0.9"/>
<line x1="252.75" y1="408.03" x2="285.05" y2="408.03" stroke="#2a2a2a" stroke-width="1.9"/>
<circle cx="268.90" cy="333.43" r="1.45" fill="#262626"/>
<circle cx="268.90" cy="294.77" r="1.45" fill="#262626"/>
<circle cx="268.90" cy="271.48" r="1.45" fill="#262626"/>
<line x1="27.00" y1="262.50" x2="295.10" y2="262.50" stroke="#4d4d4d" stroke-width="1.0"/>
<line x1="27.00" y1="458.20" x2="295.10" y2="458.20" stroke="#6e6e6e" stroke-width="1.2"/>
<line x1="27.60" y1="262.00" x2="27.60" y2="458.80" stroke="#6e6e6e" stroke-width="1.2"/>
<line x1="294.50" y1="262.00" x2="294.50" y2="458.80" stroke="#787878" stroke-width="1.2"/>
<text x="25.00" y="424.07" font-size="8.2" text-anchor="end" fill="#262626" stroke="#262626">0.20</text>
<line x1="25.40" y1="421.30" x2="27.50" y2="421.30" stroke="#333" stroke-width="0.9"/>
<text x="25.00" y="380.14" font-size="8.2" text-anchor="end" fill="#262626" stroke="#262626">0.25</text>
<line x1="25.40" y1="377.37" x2="27.50" y2="377.37" stroke="#333" stroke-width="0.9"/>
<text x="25.00" y="336.20" font-size="8.2" text-anchor="end" fill="#262626" stroke="#262626">0.30</text>
<line x1="25.40" y1="333.43" x2="27.50" y2="333.43" stroke="#333" stroke-width="0.9"/>
<text x="25.00" y="292.27" font-size="8.2" text-anchor="end" fill="#262626" stroke="#262626">0.35</text>
<line x1="25.40" y1="289.50" x2="27.50" y2="289.50" stroke="#333" stroke-width="0.9"/>
<line x1="53.40" y1="458.20" x2="53.40" y2="460.40" stroke="#333" stroke-width="0.9"/>
<text x="55.80" y="467.70" font-size="8.2" text-anchor="middle" fill="#262626" stroke="#262626">JFZ</text>
<line x1="96.50" y1="458.20" x2="96.50" y2="460.40" stroke="#333" stroke-width="0.9"/>
<text x="98.90" y="467.70" font-size="8.2" text-anchor="middle" fill="#262626" stroke="#262626">MLP</text>
<line x1="139.60" y1="458.20" x2="139.60" y2="460.40" stroke="#333" stroke-width="0.9"/>
<text x="142.00" y="467.70" font-size="8.2" text-anchor="middle" fill="#262626" stroke="#262626">NY</text>
<line x1="182.70" y1="458.20" x2="182.70" y2="460.40" stroke="#333" stroke-width="0.9"/>
<text x="185.10" y="467.70" font-size="8.2" text-anchor="middle" fill="#262626" stroke="#262626">TY</text>
<line x1="225.80" y1="458.20" x2="225.80" y2="460.40" stroke="#333" stroke-width="0.9"/>
<text x="228.20" y="467.70" font-size="8.2" text-anchor="middle" fill="#262626" stroke="#262626">XH</text>
<line x1="268.90" y1="458.20" x2="268.90" y2="460.40" stroke="#333" stroke-width="0.9"/>
<text x="271.30" y="467.70" font-size="8.2" text-anchor="middle" fill="#262626" stroke="#262626">YN−1</text>
<text x="155.70" y="474.00" font-size="8.2" text-anchor="middle" fill="#111" stroke="#111">TYPE</text>
<text transform="translate(8.4,358.7) rotate(-90)" font-size="8.2" text-anchor="middle" fill="#111" stroke="#111">CAI</text>
<text x="303.70" y="334.20" font-size="8.2" text-anchor="start" fill="#111" stroke="#111">TYPE</text>
<line x1="307.80" y1="338.80" x2="307.80" y2="346.00" stroke="#333" stroke-width="0.8"/>
<rect x="304.10" y="339.80" width="7.40" height="5.20" fill="#F87C72" stroke="#333" stroke-width="0.8"/>
<line x1="304.10" y1="342.40" x2="311.50" y2="342.40" stroke="#333" stroke-width="0.9"/>
<text x="315.10" y="344.80" font-size="8.2" text-anchor="start" fill="#1a1a1a" stroke="#1a1a1a">JFZ</text>
<line x1="307.80" y1="347.60" x2="307.80" y2="354.80" stroke="#333" stroke-width="0.8"/>
<rect x="304.10" y="348.60" width="7.40" height="5.20" fill="#AF9229" stroke="#333" stroke-width="0.8"/>
<line x1="304.10" y1="351.20" x2="311.50" y2="351.20" stroke="#333" stroke-width="0.9"/>
<text x="315.10" y="353.60" font-size="8.2" text-anchor="start" fill="#1a1a1a" stroke="#1a1a1a">MLP</text>
<line x1="307.80" y1="356.40" x2="307.80" y2="363.60" stroke="#333" stroke-width="0.8"/>
<rect x="304.10" y="357.40" width="7.40" height="5.20" fill="#3FBA2B" stroke="#333" stroke-width="0.8"/>
<line x1="304.10" y1="360.00" x2="311.50" y2="360.00" stroke="#333" stroke-width="0.9"/>
<text x="315.10" y="362.40" font-size="8.2" text-anchor="start" fill="#1a1a1a" stroke="#1a1a1a">NY</text>
<line x1="307.80" y1="365.20" x2="307.80" y2="372.40" stroke="#333" stroke-width="0.8"/>
<rect x="304.10" y="366.20" width="7.40" height="5.20" fill="#56C8C6" stroke="#333" stroke-width="0.8"/>
<line x1="304.10" y1="368.80" x2="311.50" y2="368.80" stroke="#333" stroke-width="0.9"/>
<text x="315.10" y="371.20" font-size="8.2" text-anchor="start" fill="#1a1a1a" stroke="#1a1a1a">TY</text>
<line x1="307.80" y1="374.00" x2="307.80" y2="381.20" stroke="#333" stroke-width="0.8"/>
<rect x="304.10" y="375.00" width="7.40" height="5.20" fill="#6E9BD5" stroke="#333" stroke-width="0.8"/>
<line x1="304.10" y1="377.60" x2="311.50" y2="377.60" stroke="#333" stroke-width="0.9"/>
<text x="315.10" y="380.00" font-size="8.2" text-anchor="start" fill="#1a1a1a" stroke="#1a1a1a">XH</text>
<line x1="307.80" y1="382.80" x2="307.80" y2="390.00" stroke="#333" stroke-width="0.8"/>
<rect x="304.10" y="383.80" width="7.40" height="5.20" fill="#C970CB" stroke="#333" stroke-width="0.8"/>
<line x1="304.10" y1="386.40" x2="311.50" y2="386.40" stroke="#333" stroke-width="0.9"/>
<text x="315.10" y="388.80" font-size="8.2" text-anchor="start" fill="#1a1a1a" stroke="#1a1a1a">YN−1</text>
<rect x="363.50" y="262.30" width="280.90" height="195.60" fill="#FFFFFF" stroke="none" stroke-width="0"/>
<line x1="363.50" y1="419.45" x2="644.40" y2="419.45" stroke="#EBEBEB" stroke-width="0.5"/>
<line x1="363.50" y1="360.15" x2="644.40" y2="360.15" stroke="#EBEBEB" stroke-width="0.5"/>
<line x1="363.50" y1="300.85" x2="644.40" y2="300.85" stroke="#EBEBEB" stroke-width="0.5"/>
<line x1="418.29" y1="262.30" x2="418.29" y2="457.90" stroke="#EBEBEB" stroke-width="0.5"/>
<line x1="503.65" y1="262.30" x2="503.65" y2="457.90" stroke="#EBEBEB" stroke-width="0.5"/>
<line x1="589.03" y1="262.30" x2="589.03" y2="457.90" stroke="#EBEBEB" stroke-width="0.5"/>
<line x1="363.50" y1="449.10" x2="644.40" y2="449.10" stroke="#EBEBEB" stroke-width="0.9"/>
<line x1="363.50" y1="389.80" x2="644.40" y2="389.80" stroke="#EBEBEB" stroke-width="0.9"/>
<line x1="363.50" y1="330.50" x2="644.40" y2="330.50" stroke="#EBEBEB" stroke-width="0.9"/>
<line x1="363.50" y1="271.20" x2="644.40" y2="271.20" stroke="#EBEBEB" stroke-width="0.9"/>
<line x1="375.60" y1="262.30" x2="375.60" y2="457.90" stroke="#EBEBEB" stroke-width="0.9"/>
<line x1="460.97" y1="262.30" x2="460.97" y2="457.90" stroke="#EBEBEB" stroke-width="0.9"/>
<line x1="546.34" y1="262.30" x2="546.34" y2="457.90" stroke="#EBEBEB" stroke-width="0.9"/>
<line x1="631.71" y1="262.30" x2="631.71" y2="457.90" stroke="#EBEBEB" stroke-width="0.9"/>
<path d="M384.00,379.24 L387.08,377.75 L390.17,376.34 L393.25,375.00 L396.34,373.74 L399.42,372.55 L402.50,371.38 L405.59,370.26 L408.67,369.21 L411.76,368.25 L414.84,367.35 L417.92,366.53 L421.01,365.77 L424.09,365.02 L427.18,364.35 L430.26,363.75 L433.34,363.23 L436.43,362.79 L439.51,362.42 L442.60,362.06 L445.68,361.76 L448.76,361.54 L451.85,361.39 L454.93,361.32 L458.02,361.32 L461.10,361.20 L464.18,360.80 L467.27,360.48 L470.35,360.23 L473.44,360.06 L476.52,359.97 L479.60,359.95 L482.69,360.01 L485.77,360.05 L488.86,359.87 L491.94,359.77 L495.02,359.74 L498.11,359.79 L501.19,359.92 L504.28,360.12 L507.36,360.40 L510.44,360.70 L513.53,360.76 L516.61,360.89 L519.70,361.10 L522.78,361.39 L525.86,361.75 L528.95,362.19 L532.03,362.71 L535.12,363.30 L538.20,363.97 L538.20,405.67 L535.12,402.79 L532.03,399.99 L528.95,397.26 L525.86,394.61 L522.78,392.04 L519.70,389.55 L516.61,387.13 L513.53,384.79 L510.44,382.52 L507.36,380.72 L504.28,379.06 L501.19,377.47 L498.11,375.96 L495.02,374.53 L491.94,373.17 L488.86,371.90 L485.77,370.70 L482.69,369.91 L479.60,369.32 L476.52,368.81 L473.44,368.37 L470.35,368.01 L467.27,367.73 L464.18,367.52 L461.10,367.39 L458.02,367.67 L454.93,368.21 L451.85,368.82 L448.76,369.50 L445.68,370.27 L442.60,371.10 L439.51,372.01 L436.43,372.95 L433.34,373.97 L430.26,375.06 L427.18,376.22 L424.09,377.46 L421.01,378.78 L417.92,380.23 L414.84,381.79 L411.76,383.42 L408.67,385.13 L405.59,386.92 L402.50,388.78 L399.42,390.75 L396.34,393.00 L393.25,395.32 L390.17,397.72 L387.08,400.19 L384.00,402.74Z" fill="#FDEEDD" fill-opacity="0.5"/>
<path d="M384.00,382.24 L387.08,380.63 L390.17,379.10 L393.25,377.64 L396.34,376.26 L399.42,374.95 L402.50,373.67 L405.59,372.45 L408.67,371.31 L411.76,370.24 L414.84,369.25 L417.92,368.33 L421.01,367.46 L424.09,366.64 L427.18,365.89 L430.26,365.21 L433.34,364.61 L436.43,364.08 L439.51,363.63 L442.60,363.21 L445.68,362.85 L448.76,362.56 L451.85,362.35 L454.93,362.22 L458.02,362.16 L461.10,362.03 L464.18,361.71 L467.27,361.46 L470.35,361.29 L473.44,361.20 L476.52,361.18 L479.60,361.24 L482.69,361.38 L485.77,361.52 L488.86,361.51 L491.94,361.59 L495.02,361.74 L498.11,361.96 L501.19,362.26 L504.28,362.64 L507.36,363.10 L510.44,363.59 L513.53,363.92 L516.61,364.32 L519.70,364.80 L522.78,365.36 L525.86,365.99 L528.95,366.70 L532.03,367.49 L535.12,368.35 L538.20,369.30 L538.20,400.57 L535.12,397.97 L532.03,395.45 L528.95,393.01 L525.86,390.64 L522.78,388.35 L519.70,386.14 L516.61,384.00 L513.53,381.94 L510.44,379.96 L507.36,378.34 L504.28,376.85 L501.19,375.43 L498.11,374.09 L495.02,372.83 L491.94,371.64 L488.86,370.53 L485.77,369.50 L482.69,368.80 L479.60,368.27 L476.52,367.81 L473.44,367.43 L470.35,367.12 L467.27,366.90 L464.18,366.74 L461.10,366.67 L458.02,366.92 L454.93,367.39 L451.85,367.92 L448.76,368.54 L445.68,369.23 L442.60,369.99 L439.51,370.82 L436.43,371.70 L433.34,372.66 L430.26,373.69 L427.18,374.79 L424.09,375.97 L421.01,377.22 L417.92,378.60 L414.84,380.07 L411.76,381.62 L408.67,383.25 L405.59,384.95 L402.50,386.72 L399.42,388.60 L396.34,390.70 L393.25,392.88 L390.17,395.14 L387.08,397.46 L384.00,399.87Z" fill="#FDEEDD" fill-opacity="0.45"/>
<circle cx="384.14" cy="404.03" r="1.65" fill="#737A8A"/>
<circle cx="392.67" cy="406.40" r="1.65" fill="#8ED67E"/>
<circle cx="392.67" cy="378.83" r="1.65" fill="#EFE6CF"/>
<circle cx="401.21" cy="392.47" r="1.65" fill="#A08050"/>
<circle cx="401.21" cy="395.14" r="1.65" fill="#AFC8EE"/>
<circle cx="409.75" cy="388.91" r="1.65" fill="#5E9A7C"/>
<circle cx="409.75" cy="360.45" r="1.65" fill="#B8A545"/>
<circle cx="409.75" cy="361.93" r="1.65" fill="#6AAE40"/>
<circle cx="409.75" cy="363.41" r="1.65" fill="#6A90D6"/>
<circle cx="409.75" cy="374.98" r="1.65" fill="#EFE6CF"/>
<circle cx="409.75" cy="380.91" r="1.65" fill="#EFE6CF"/>
<circle cx="418.29" cy="358.37" r="1.65" fill="#7A98A0"/>
<circle cx="418.29" cy="361.34" r="1.65" fill="#8AB040"/>
<circle cx="418.29" cy="380.31" r="1.65" fill="#6E7874"/>
<circle cx="418.29" cy="398.70" r="1.65" fill="#8ED67E"/>
<circle cx="418.29" cy="370.53" r="1.65" fill="#EFE6CF"/>
<circle cx="426.82" cy="358.37" r="1.65" fill="#5EA830"/>
<circle cx="426.82" cy="361.93" r="1.65" fill="#5A98B8"/>
<circle cx="426.82" cy="364.60" r="1.65" fill="#4E9878"/>
<circle cx="426.82" cy="381.50" r="1.65" fill="#6E7688"/>
<circle cx="426.82" cy="406.40" r="1.65" fill="#5E9A7C"/>
<circle cx="435.36" cy="363.71" r="1.65" fill="#8890A0"/>
<circle cx="435.36" cy="373.79" r="1.65" fill="#4E9070"/>
<circle cx="443.90" cy="359.85" r="1.65" fill="#5E9A7C"/>
<circle cx="443.90" cy="369.64" r="1.65" fill="#D8EAC8"/>
<circle cx="452.43" cy="345.92" r="1.65" fill="#5E9A7C"/>
<circle cx="452.43" cy="357.19" r="1.65" fill="#5A8ED0"/>
<circle cx="452.43" cy="358.96" r="1.65" fill="#5A8ED0"/>
<circle cx="452.43" cy="369.93" r="1.65" fill="#8A8AA0"/>
<circle cx="452.43" cy="373.20" r="1.65" fill="#5E9A7C"/>
<circle cx="452.43" cy="384.46" r="1.65" fill="#F7B0AA"/>
<circle cx="460.97" cy="341.17" r="1.65" fill="#5A9A98"/>
<circle cx="460.97" cy="344.44" r="1.65" fill="#DDA060"/>
<circle cx="460.97" cy="371.42" r="1.65" fill="#6AA830"/>
<circle cx="469.51" cy="354.81" r="1.65" fill="#5E9A7C"/>
<circle cx="469.51" cy="370.53" r="1.65" fill="#B0A0D8"/>
<circle cx="469.51" cy="373.49" r="1.65" fill="#F7B0AA"/>
<circle cx="469.51" cy="375.27" r="1.65" fill="#5E9A7C"/>
<circle cx="469.51" cy="385.65" r="1.65" fill="#5E9A7C"/>
<circle cx="478.04" cy="356.30" r="1.65" fill="#5E9A7C"/>
<circle cx="478.04" cy="360.74" r="1.65" fill="#EFE6CF"/>
<circle cx="478.04" cy="369.64" r="1.65" fill="#5E9A7C"/>
<circle cx="478.04" cy="390.39" r="1.65" fill="#F7B0AA"/>
<circle cx="478.04" cy="393.65" r="1.65" fill="#6AB040"/>
<circle cx="486.58" cy="371.42" r="1.65" fill="#5E9A7C"/>
<circle cx="486.58" cy="380.91" r="1.65" fill="#5E9A7C"/>
<circle cx="486.58" cy="391.88" r="1.65" fill="#8890D8"/>
<circle cx="495.12" cy="372.01" r="1.65" fill="#EFE6CF"/>
<circle cx="512.19" cy="353.63" r="1.65" fill="#9ADCE0"/>
<circle cx="520.73" cy="353.63" r="1.65" fill="#5E9A7C"/>
<circle cx="537.80" cy="385.35" r="1.65" fill="#5E9A7C"/>
<path d="M384.00,391.24 L387.08,389.27 L390.17,387.38 L393.25,385.56 L396.34,383.81 L399.42,382.13 L402.50,380.53 L405.59,379.00 L408.67,377.54 L411.76,376.16 L414.84,374.84 L417.92,373.60 L421.01,372.44 L424.09,371.34 L427.18,370.31 L430.26,369.36 L433.34,368.48 L436.43,367.67 L439.51,366.93 L442.60,366.26 L445.68,365.66 L448.76,365.13 L451.85,364.68 L454.93,364.29 L458.02,363.98 L461.10,363.73 L464.18,363.56 L467.27,363.46 L470.35,363.43 L473.44,363.48 L476.52,363.59 L479.60,363.78 L482.69,364.04 L485.77,364.37 L488.86,364.77 L491.94,365.24 L495.02,365.79 L498.11,366.40 L501.19,367.09 L504.28,367.85 L507.36,368.68 L510.44,369.58 L513.53,370.55 L516.61,371.60 L519.70,372.71 L522.78,373.89 L525.86,375.15 L528.95,376.47 L532.03,377.87 L535.12,379.33 L538.20,380.87" fill="none" stroke="#F87C72" stroke-width="1.3" stroke-opacity="0.4"/>
<path d="M384.00,391.24 L387.08,389.27 L390.17,387.38 L393.25,385.56 L396.34,383.81 L399.42,382.14 L402.50,380.54 L405.59,379.02 L408.67,377.57 L411.76,376.19 L414.84,374.89 L417.92,373.66 L421.01,372.51 L424.09,371.43 L427.18,370.42 L430.26,369.49 L433.34,368.63 L436.43,367.84 L439.51,367.13 L442.60,366.49 L445.68,365.92 L448.76,365.43 L451.85,365.01 L454.93,364.67 L458.02,364.39 L461.10,364.19 L464.18,364.07 L467.27,364.02 L470.35,364.04 L473.44,364.14 L476.52,364.32 L479.60,364.57 L482.69,364.89 L485.77,365.29 L488.86,365.76 L491.94,366.31 L495.02,366.93 L498.11,367.63 L501.19,368.40 L504.28,369.25 L507.36,370.17 L510.44,371.16 L513.53,372.23 L516.61,373.38 L519.70,374.60 L522.78,375.89 L525.86,377.26 L528.95,378.70 L532.03,380.22 L535.12,381.81 L538.20,383.47" fill="none" stroke="#AF9229" stroke-width="1.2" stroke-opacity="0.4"/>
<path d="M384.00,391.24 L387.08,389.27 L390.17,387.38 L393.25,385.56 L396.34,383.81 L399.42,382.14 L402.50,380.54 L405.59,379.02 L408.67,377.57 L411.76,376.20 L414.84,374.90 L417.92,373.67 L421.01,372.52 L424.09,371.44 L427.18,370.43 L430.26,369.50 L433.34,368.65 L436.43,367.86 L439.51,367.15 L442.60,366.52 L445.68,365.95 L448.76,365.47 L451.85,365.05 L454.93,364.71 L458.02,364.44 L461.10,364.25 L464.18,364.13 L467.27,364.08 L470.35,364.11 L473.44,364.22 L476.52,364.40 L479.60,364.66 L482.69,364.99 L485.77,365.39 L488.86,365.88 L491.94,366.43 L495.02,367.06 L498.11,367.77 L501.19,368.55 L504.28,369.41 L507.36,370.34 L510.44,371.35 L513.53,372.43 L516.61,373.58 L519.70,374.82 L522.78,376.12 L525.86,377.50 L528.95,378.96 L532.03,380.49 L535.12,382.09 L538.20,383.77" fill="none" stroke="#3FBA2B" stroke-width="1.3" stroke-opacity="0.55"/>
<path d="M384.00,391.24 L387.08,389.27 L390.17,387.38 L393.25,385.56 L396.34,383.82 L399.42,382.15 L402.50,380.57 L405.59,379.05 L408.67,377.62 L411.76,376.26 L414.84,374.98 L417.92,373.77 L421.01,372.64 L424.09,371.59 L427.18,370.62 L430.26,369.72 L433.34,368.90 L436.43,368.16 L439.51,367.50 L442.60,366.91 L445.68,366.40 L448.76,365.97 L451.85,365.62 L454.93,365.34 L458.02,365.14 L461.10,365.02 L464.18,364.98 L467.27,365.02 L470.35,365.15 L473.44,365.35 L476.52,365.63 L479.60,365.99 L482.69,366.43 L485.77,366.95 L488.86,367.55 L491.94,368.24 L495.02,369.00 L498.11,369.84 L501.19,370.77 L504.28,371.77 L507.36,372.86 L510.44,374.03 L513.53,375.27 L516.61,376.60 L519.70,378.01 L522.78,379.50 L525.86,381.07 L528.95,382.73 L532.03,384.46 L535.12,386.27 L538.20,388.17" fill="none" stroke="#56C8C6" stroke-width="2.0" stroke-opacity="0.65"/>
<path d="M384.00,391.24 L387.08,389.27 L390.17,387.38 L393.25,385.56 L396.34,383.82 L399.42,382.15 L402.50,380.56 L405.59,379.04 L408.67,377.60 L411.76,376.24 L414.84,374.95 L417.92,373.74 L421.01,372.60 L424.09,371.54 L427.18,370.55 L430.26,369.65 L433.34,368.81 L436.43,368.06 L439.51,367.38 L442.60,366.78 L445.68,366.25 L448.76,365.80 L451.85,365.42 L454.93,365.13 L458.02,364.90 L461.10,364.76 L464.18,364.69 L467.27,364.70 L470.35,364.79 L473.44,364.96 L476.52,365.21 L479.60,365.53 L482.69,365.94 L485.77,366.42 L488.86,366.98 L491.94,367.62 L495.02,368.34 L498.11,369.14 L501.19,370.01 L504.28,370.97 L507.36,372.00 L510.44,373.11 L513.53,374.30 L516.61,375.57 L519.70,376.92 L522.78,378.35 L525.86,379.86 L528.95,381.44 L532.03,383.11 L535.12,384.85 L538.20,386.67" fill="none" stroke="#6E9BD5" stroke-width="1.6" stroke-opacity="0.5"/>
<path d="M384.00,391.24 L387.08,389.27 L390.17,387.38 L393.25,385.56 L396.34,383.81 L399.42,382.15 L402.50,380.55 L405.59,379.03 L408.67,377.59 L411.76,376.22 L414.84,374.92 L417.92,373.70 L421.01,372.56 L424.09,371.49 L427.18,370.50 L430.26,369.58 L433.34,368.73 L436.43,367.96 L439.51,367.27 L442.60,366.65 L445.68,366.11 L448.76,365.64 L451.85,365.24 L454.93,364.92 L458.02,364.68 L461.10,364.51 L464.18,364.42 L467.27,364.40 L470.35,364.46 L473.44,364.60 L476.52,364.82 L479.60,365.11 L482.69,365.48 L485.77,365.93 L488.86,366.45 L491.94,367.05 L495.02,367.72 L498.11,368.48 L501.19,369.31 L504.28,370.22 L507.36,371.20 L510.44,372.26 L513.53,373.40 L516.61,374.61 L519.70,375.90 L522.78,377.27 L525.86,378.72 L528.95,380.24 L532.03,381.84 L535.12,383.52 L538.20,385.27" fill="none" stroke="#C970CB" stroke-width="2.2" stroke-opacity="1"/>
<line x1="362.75" y1="262.50" x2="645.00" y2="262.50" stroke="#4d4d4d" stroke-width="1.0"/>
<line x1="362.75" y1="458.50" x2="645.00" y2="458.50" stroke="#4d4d4d" stroke-width="1.0"/>
<line x1="363.40" y1="262.00" x2="363.40" y2="459.00" stroke="#8a8a8a" stroke-width="1.3"/>
<line x1="644.50" y1="262.00" x2="644.50" y2="459.00" stroke="#4d4d4d" stroke-width="1.0"/>
<text x="377.0" y="278.40" font-size="6.7" fill="#F87C72" textLength="103.0" lengthAdjust="spacingAndGlyphs">y = -40.8+576 x -927 x<tspan dy="-3.2" font-size="5.2">2</tspan><tspan dy="3.2">, P = 0.0009, R</tspan></text>
<text x="484.00" y="273.20" font-size="4.6" text-anchor="middle" fill="#F87C72">2</text>
<line x1="482.40" y1="273.80" x2="485.60" y2="273.80" stroke="#F87C72" stroke-width="0.6"/>
<text x="484.30" y="278.70" font-size="5.6" text-anchor="middle" fill="#F87C72" textLength="5.6" lengthAdjust="spacingAndGlyphs">adj</text>
<text x="488.00" y="278.40" font-size="6.7" fill="#F87C72" textLength="15.6" lengthAdjust="spacingAndGlyphs">= 0.22</text>
<text x="377.0" y="288.14" font-size="6.7" fill="#AF9229" textLength="102.5" lengthAdjust="spacingAndGlyphs">y = -43.1+598 x - 973 x<tspan dy="-3.2" font-size="5.2">2</tspan><tspan dy="3.2">, P = 0.0011, R</tspan></text>
<text x="483.50" y="282.94" font-size="4.6" text-anchor="middle" fill="#AF9229">2</text>
<line x1="481.90" y1="283.54" x2="485.10" y2="283.54" stroke="#AF9229" stroke-width="0.6"/>
<text x="483.80" y="288.44" font-size="5.6" text-anchor="middle" fill="#AF9229" textLength="5.6" lengthAdjust="spacingAndGlyphs">adj</text>
<text x="487.50" y="288.14" font-size="6.7" fill="#AF9229" textLength="15.6" lengthAdjust="spacingAndGlyphs">= 0.21</text>
<text x="377.0" y="297.88" font-size="6.7" fill="#3FBA2B" textLength="98.5" lengthAdjust="spacingAndGlyphs">y = - 43+597 x -973 x<tspan dy="-3.2" font-size="5.2">2</tspan><tspan dy="3.2">, P = 0.0064, R</tspan></text>
<text x="479.50" y="292.68" font-size="4.6" text-anchor="middle" fill="#3FBA2B">2</text>
<line x1="477.90" y1="293.28" x2="481.10" y2="293.28" stroke="#3FBA2B" stroke-width="0.6"/>
<text x="479.80" y="298.18" font-size="5.6" text-anchor="middle" fill="#3FBA2B" textLength="5.6" lengthAdjust="spacingAndGlyphs">adj</text>
<text x="483.50" y="297.88" font-size="6.7" fill="#3FBA2B" textLength="15.6" lengthAdjust="spacingAndGlyphs">= 0.15</text>
<text x="377.0" y="307.62" font-size="6.7" fill="#56C8C6" textLength="116.3" lengthAdjust="spacingAndGlyphs">y = - 54+677 x -1.11×10<tspan dy="-3" font-size="4.8">03</tspan><tspan dy="3"> x</tspan><tspan dy="-3.2" font-size="5.2">2</tspan><tspan dy="3.2">, P = 0.0003, R</tspan></text>
<text x="497.30" y="302.42" font-size="4.6" text-anchor="middle" fill="#56C8C6">2</text>
<line x1="495.70" y1="303.02" x2="498.90" y2="303.02" stroke="#56C8C6" stroke-width="0.6"/>
<text x="497.60" y="307.92" font-size="5.6" text-anchor="middle" fill="#56C8C6" textLength="5.6" lengthAdjust="spacingAndGlyphs">adj</text>
<text x="501.30" y="307.62" font-size="6.7" fill="#56C8C6" textLength="15.6" lengthAdjust="spacingAndGlyphs">= 0.25</text>
<text x="377.0" y="317.36" font-size="6.7" fill="#6E9BD5" textLength="120.7" lengthAdjust="spacingAndGlyphs">y = -48.4+635 x - 1.04×10<tspan dy="-3" font-size="4.8">03</tspan><tspan dy="3"> x</tspan><tspan dy="-3.2" font-size="5.2">2</tspan><tspan dy="3.2">, P = 0.0005, R</tspan></text>
<text x="501.70" y="312.16" font-size="4.6" text-anchor="middle" fill="#6E9BD5">2</text>
<line x1="500.10" y1="312.76" x2="503.30" y2="312.76" stroke="#6E9BD5" stroke-width="0.6"/>
<text x="502.00" y="317.66" font-size="5.6" text-anchor="middle" fill="#6E9BD5" textLength="5.6" lengthAdjust="spacingAndGlyphs">adj</text>
<text x="505.70" y="317.36" font-size="6.7" fill="#6E9BD5" textLength="15.6" lengthAdjust="spacingAndGlyphs">= 0.24</text>
<text x="377.0" y="327.10" font-size="6.7" fill="#C970CB" textLength="120.7" lengthAdjust="spacingAndGlyphs">y = -47.3+628 x - 1.03×10<tspan dy="-3" font-size="4.8">03</tspan><tspan dy="3"> x</tspan><tspan dy="-3.2" font-size="5.2">2</tspan><tspan dy="3.2">, P = 0.0006, R</tspan></text>
<text x="501.70" y="321.90" font-size="4.6" text-anchor="middle" fill="#C970CB">2</text>
<line x1="500.10" y1="322.50" x2="503.30" y2="322.50" stroke="#C970CB" stroke-width="0.6"/>
<text x="502.00" y="327.40" font-size="5.6" text-anchor="middle" fill="#C970CB" textLength="5.6" lengthAdjust="spacingAndGlyphs">adj</text>
<text x="505.70" y="327.10" font-size="6.7" fill="#C970CB" textLength="15.6" lengthAdjust="spacingAndGlyphs">= 0.23</text>
<text x="358.20" y="451.87" font-size="8.2" text-anchor="end" fill="#262626" stroke="#262626">20</text>
<line x1="361.40" y1="449.10" x2="363.50" y2="449.10" stroke="#333" stroke-width="0.9"/>
<text x="358.20" y="392.57" font-size="8.2" text-anchor="end" fill="#262626" stroke="#262626">40</text>
<line x1="361.40" y1="389.80" x2="363.50" y2="389.80" stroke="#333" stroke-width="0.9"/>
<text x="358.20" y="333.27" font-size="8.2" text-anchor="end" fill="#262626" stroke="#262626">60</text>
<line x1="361.40" y1="330.50" x2="363.50" y2="330.50" stroke="#333" stroke-width="0.9"/>
<text x="358.20" y="273.97" font-size="8.2" text-anchor="end" fill="#262626" stroke="#262626">80</text>
<line x1="361.40" y1="271.20" x2="363.50" y2="271.20" stroke="#333" stroke-width="0.9"/>
<line x1="375.60" y1="457.90" x2="375.60" y2="460.10" stroke="#333" stroke-width="0.9"/>
<text x="377.50" y="468.00" font-size="8.2" text-anchor="middle" fill="#262626" stroke="#262626">0.2</text>
<line x1="460.97" y1="457.90" x2="460.97" y2="460.10" stroke="#333" stroke-width="0.9"/>
<text x="462.87" y="468.00" font-size="8.2" text-anchor="middle" fill="#262626" stroke="#262626">0.3</text>
<line x1="546.34" y1="457.90" x2="546.34" y2="460.10" stroke="#333" stroke-width="0.9"/>
<text x="548.24" y="468.00" font-size="8.2" text-anchor="middle" fill="#262626" stroke="#262626">0.4</text>
<line x1="631.71" y1="457.90" x2="631.71" y2="460.10" stroke="#333" stroke-width="0.9"/>
<text x="633.61" y="468.00" font-size="8.2" text-anchor="middle" fill="#262626" stroke="#262626">0.5</text>
<text x="505.50" y="470.50" font-size="8.2" text-anchor="middle" fill="#111" stroke="#111">GC3</text>
<text transform="translate(349.5,358.0) rotate(-90)" font-size="8.2" text-anchor="middle" fill="#111" stroke="#111">ENC</text>
<text x="653.50" y="333.80" font-size="8.2" text-anchor="start" fill="#111" stroke="#111">TYPE</text>
<rect x="653.50" y="337.20" width="8.60" height="9.20" fill="#FEF8F0" stroke="none" stroke-width="0"/>
<line x1="654.10" y1="341.80" x2="661.50" y2="341.80" stroke="#F87C72" stroke-width="1.9"/>
<text x="665.00" y="343.50" font-size="8.2" text-anchor="start" fill="#1a1a1a" stroke="#1a1a1a">JFZ</text>
<rect x="653.50" y="346.16" width="8.60" height="9.20" fill="#FEF8F0" stroke="none" stroke-width="0"/>
<line x1="654.10" y1="350.76" x2="661.50" y2="350.76" stroke="#AF9229" stroke-width="1.9"/>
<text x="665.00" y="352.46" font-size="8.2" text-anchor="start" fill="#1a1a1a" stroke="#1a1a1a">MLP</text>
<rect x="653.50" y="355.12" width="8.60" height="9.20" fill="#FEF8F0" stroke="none" stroke-width="0"/>
<line x1="654.10" y1="359.72" x2="661.50" y2="359.72" stroke="#3FBA2B" stroke-width="1.9"/>
<text x="665.00" y="361.42" font-size="8.2" text-anchor="start" fill="#1a1a1a" stroke="#1a1a1a">NY</text>
<rect x="653.50" y="364.08" width="8.60" height="9.20" fill="#FEF8F0" stroke="none" stroke-width="0"/>
<line x1="654.10" y1="368.68" x2="661.50" y2="368.68" stroke="#56C8C6" stroke-width="1.9"/>
<text x="665.00" y="370.38" font-size="8.2" text-anchor="start" fill="#1a1a1a" stroke="#1a1a1a">TY</text>
<rect x="653.50" y="373.04" width="8.60" height="9.20" fill="#FEF8F0" stroke="none" stroke-width="0"/>
<line x1="654.10" y1="377.64" x2="661.50" y2="377.64" stroke="#6E9BD5" stroke-width="1.9"/>
<text x="665.00" y="379.34" font-size="8.2" text-anchor="start" fill="#1a1a1a" stroke="#1a1a1a">XH</text>
<rect x="653.50" y="382.00" width="8.60" height="9.20" fill="#FEF8F0" stroke="none" stroke-width="0"/>
<line x1="654.10" y1="386.60" x2="661.50" y2="386.60" stroke="#C970CB" stroke-width="1.9"/>
<text x="665.00" y="388.30" font-size="8.2" text-anchor="start" fill="#1a1a1a" stroke="#1a1a1a">YN−1</text>
</svg>
</body></html>
